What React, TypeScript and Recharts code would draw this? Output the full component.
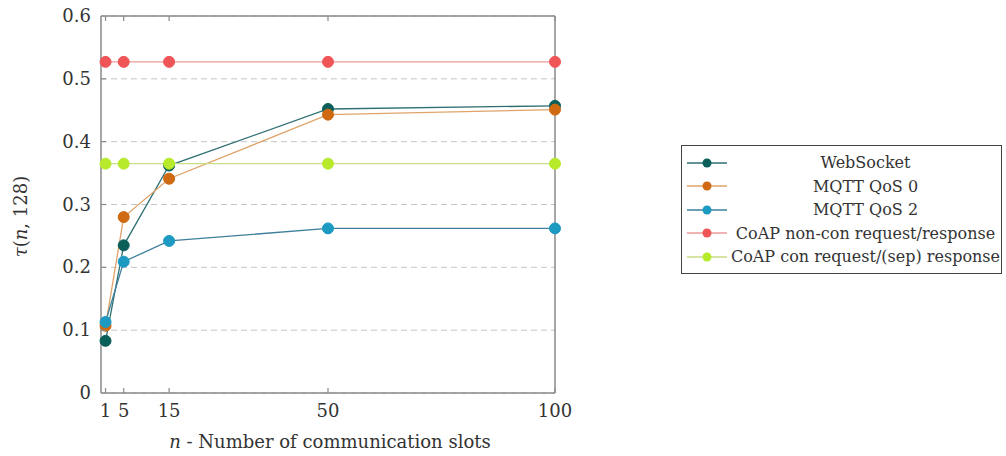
import { LineChart, Line, XAxis, YAxis, CartesianGrid, Legend } from 'recharts';

const slots = [1, 5, 15, 50, 100];
const webSocket = [0.083, 0.235, 0.362, 0.452, 0.457];
const mqttQos0 = [0.107, 0.28, 0.341, 0.443, 0.451];
const mqttQos2 = [0.113, 0.209, 0.242, 0.262, 0.262];
const coapNonCon = [0.527, 0.527, 0.527, 0.527, 0.527];
const coapCon = [0.365, 0.365, 0.365, 0.365, 0.365];
const yTicks = [0, 0.1, 0.2, 0.3, 0.4, 0.5, 0.6];

const FONT = '"DejaVu Serif", serif';
const AXIS = '#8a8a8a';

const series = [
  { key: 'ws', name: 'WebSocket', values: webSocket, dot: '#0b5f5b', line: '#2f6f72' },
  { key: 'q0', name: 'MQTT QoS 0', values: mqttQos0, dot: '#d06a12', line: '#e0a46a' },
  { key: 'q2', name: 'MQTT QoS 2', values: mqttQos2, dot: '#1c9ac2', line: '#3d7f9c' },
  { key: 'nc', name: 'CoAP non-con request/response', values: coapNonCon, dot: '#ef5456', line: '#ee9a9a' },
  { key: 'cc', name: 'CoAP con request/(sep) response', values: coapCon, dot: '#b8ea2c', line: '#c9dd86' },
];

const data = slots.map((n, i) => {
  const row: Record<string, number> = { n };
  series.forEach(s => { row[s.key] = s.values[i]; });
  return row;
});

const BottomTick = ({ x, y, payload }: any) => (
  <g>
    <line x1={x} x2={x} y1={y} y2={y - 5} stroke={AXIS} strokeWidth={1.2} />
    <text x={x} y={y + 24} textAnchor="middle" fontFamily={FONT} fontSize={18} fill="#333">{payload.value}</text>
  </g>
);

const TopTick = ({ x, y }: any) => (
  <line x1={x} x2={x} y1={y} y2={y + 5} stroke={AXIS} strokeWidth={1.2} />
);

const LeftTick = ({ x, y, payload }: any) => (
  <g>
    {payload.value > 0 && payload.value < 0.6 && (
      <line x1={x} x2={x + 5} y1={y} y2={y} stroke={AXIS} strokeWidth={1.2} />
    )}
    <text x={x - 10} y={y + 6} textAnchor="end" fontFamily={FONT} fontSize={18} fill="#333">
      {payload.value === 0 ? '0' : payload.value.toFixed(1)}
    </text>
  </g>
);

const RightTick = ({ x, y, payload }: any) =>
  payload.value > 0 && payload.value < 0.6 ? (
    <line x1={x} x2={x - 5} y1={y} y2={y} stroke={AXIS} strokeWidth={1.2} />
  ) : <g />;

const YLabel = ({ viewBox }: any) => {
  const cx = 27;
  const cy = viewBox.y + viewBox.height / 2 + 12;
  return (
    <text x={cx} y={cy} transform={`rotate(-90 ${cx} ${cy})`} textAnchor="middle" fontFamily={FONT} fontSize={18} fill="#333">
      <tspan fontStyle="italic">τ</tspan>(<tspan fontStyle="italic">n</tspan>, 128)
    </text>
  );
};

const XLabel = ({ viewBox }: any) => (
  <text x={viewBox.x + viewBox.width / 2 + 2} y={448} textAnchor="middle" fontFamily={FONT} fontSize={18} fill="#333">
    <tspan fontStyle="italic">n</tspan> - Number of communication slots
  </text>
);

const renderLegend = () => (
  <div style={{ border: '1px solid #444', background: '#fff', width: 319, padding: '5px 0 4px 0', fontFamily: FONT, fontSize: 16, color: '#333' }}>
    {series.map(s => (
      <div key={s.key} style={{ display: 'flex', alignItems: 'center', height: 23.5 }}>
        <svg width={44} height={14} style={{ marginLeft: 4, flexShrink: 0 }}>
          <line x1={1} x2={41} y1={7} y2={7} stroke={s.line} strokeWidth={1.3} />
          <circle cx={21} cy={7} r={4.5} fill={s.dot} />
        </svg>
        <div style={{ flex: 1, textAlign: 'center', whiteSpace: 'nowrap' }}>{s.name}</div>
      </div>
    ))}
  </div>
);

export default function App() {
  return (
    <div style={{ position: 'fixed', left: 0, top: 0, background: '#fff' }}>
      <LineChart width={1006} height={456} data={data} margin={{ top: 15, right: 450, bottom: 33, left: 41 }}>
        <CartesianGrid vertical={false} stroke="#c4c4c4" strokeDasharray="6 4" />
        <XAxis
          dataKey="n"
          type="number"
          domain={[0, 100]}
          ticks={slots}
          height={30}
          tickSize={0}
          tickMargin={0}
          tick={<BottomTick />}
          axisLine={{ stroke: AXIS, strokeWidth: 1.5 }}
          label={<XLabel />}
        />
        <XAxis
          xAxisId="top"
          orientation="top"
          dataKey="n"
          type="number"
          domain={[0, 100]}
          ticks={slots}
          height={1}
          tickSize={0}
          tickMargin={0}
          tick={<TopTick />}
          axisLine={{ stroke: AXIS, strokeWidth: 1.5 }}
        />
        <YAxis
          domain={[0, 0.6]}
          ticks={yTicks}
          width={60}
          tickSize={0}
          tickMargin={0}
          tick={<LeftTick />}
          axisLine={{ stroke: AXIS, strokeWidth: 1.5 }}
          label={<YLabel />}
        />
        <YAxis
          yAxisId="right"
          orientation="right"
          domain={[0, 0.6]}
          ticks={yTicks}
          width={1}
          tickSize={0}
          tickMargin={0}
          tick={<RightTick />}
          axisLine={{ stroke: AXIS, strokeWidth: 1.5 }}
        />
        {series.map(s => (
          <Line
            key={s.key}
            dataKey={s.key}
            name={s.name}
            type="linear"
            stroke={s.line}
            strokeWidth={1.3}
            dot={{ r: 5.5, fill: s.dot, stroke: s.dot, strokeWidth: 1 }}
            activeDot={false}
            isAnimationActive={false}
          />
        ))}
        <Legend
          layout="horizontal"
          align="center"
          verticalAlign="middle"
          content={renderLegend}
          wrapperStyle={{ left: 681, top: 145, width: 321 }}
        />
      </LineChart>
    </div>
  );
}
